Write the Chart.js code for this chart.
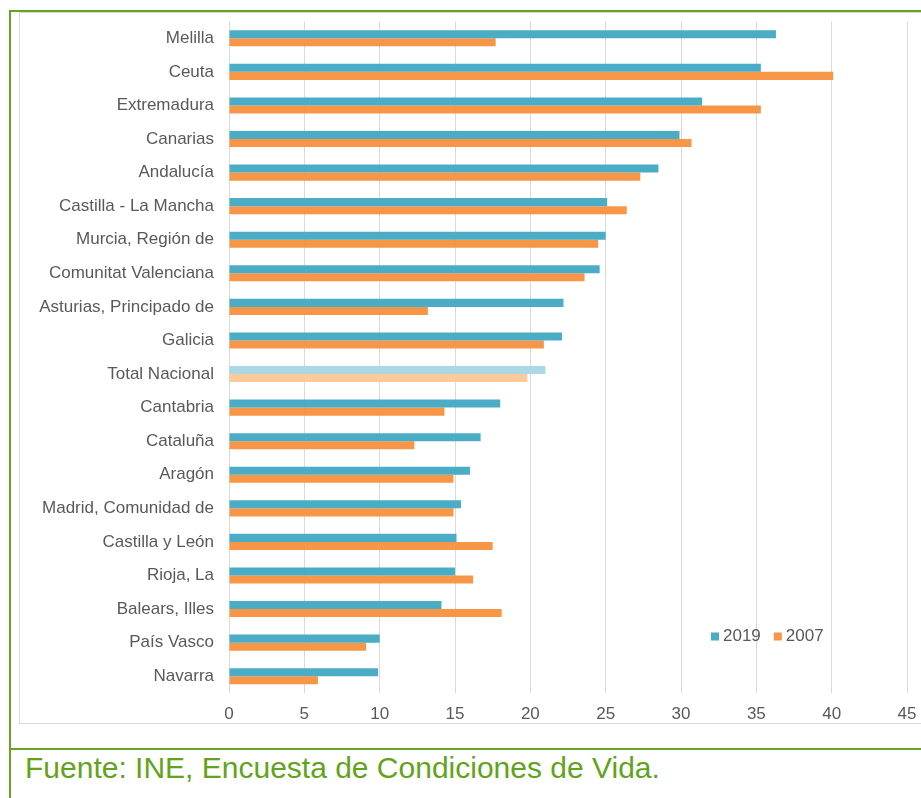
<!DOCTYPE html>
<html>
<head>
<meta charset="utf-8">
<script src="https://cdn.jsdelivr.net/npm/chart.js@4/dist/chart.umd.min.js"></script>
<style>
  html, body { margin: 0; padding: 0; background: #fff; }
  body { width: 921px; height: 798px; position: relative; overflow: hidden; font-family: "Liberation Sans", Arial, sans-serif; }
  .frame-left { position: absolute; left: 9px; top: 10px; width: 2px; height: 788px; background: #6aa121; }
  .frame-top { position: absolute; left: 9px; top: 10px; width: 912px; height: 2px; background: #6aa121; }
  .frame-mid { position: absolute; left: 9px; top: 748px; width: 912px; height: 2px; background: #6aa121; }
  .box { position: absolute; left: 19px; top: 12px; width: 910px; height: 712px; border: 1px solid #d9d9d9; box-sizing: border-box; }
  #wrap { position: absolute; left: 20px; top: 13px; width: 901px; height: 711px; }
  .fuente { position: absolute; left: 25px; top: 753px; font-size: 30px; line-height: 30px; color: #62a31c; white-space: nowrap; }
</style>
</head>
<body>
<div class="frame-left"></div>
<div class="frame-top"></div>
<div class="box"></div>
<div id="wrap"><canvas id="myChart"></canvas></div>
<div class="frame-mid"></div>
<div class="fuente">Fuente: INE, Encuesta de Condiciones de Vida.</div>
<script>
// datos
const regiones = ['Melilla', 'Ceuta', 'Extremadura', 'Canarias', 'Andalucía', 'Castilla - La Mancha',
  'Murcia, Región de', 'Comunitat Valenciana', 'Asturias, Principado de', 'Galicia', 'Total Nacional',
  'Cantabria', 'Cataluña', 'Aragón', 'Madrid, Comunidad de', 'Castilla y León', 'Rioja, La',
  'Balears, Illes', 'País Vasco', 'Navarra'];
const valores2019 = [36.3, 35.3, 31.4, 29.9, 28.5, 25.1, 25.0, 24.6, 22.2, 22.1, 21.0,
  18.0, 16.7, 16.0, 15.4, 15.1, 15.0, 14.1, 10.0, 9.9];
const valores2007 = [17.7, 40.1, 35.3, 30.7, 27.3, 26.4, 24.5, 23.6, 13.2, 20.9, 19.8,
  14.3, 12.3, 14.9, 14.9, 17.5, 16.2, 18.1, 9.1, 5.9];
const ticksX = [0, 5, 10, 15, 20, 25, 30, 35, 40, 45];

const azul = '#4bacc6', naranja = '#f79646';
const azulClaro = '#acd8e5', naranjaClaro = '#fdca9b';
const colores = (base, claro) => regiones.map(r => r === 'Total Nacional' ? claro : base);
const fuente = '"Liberation Sans", Arial, sans-serif';

// leyenda dentro del area del grafico
const leyenda = {
  id: 'leyenda',
  afterDraw(chart) {
    const c = chart.ctx;
    const x0 = chart.chartArea.left + 482, y0 = chart.chartArea.top + 615;
    c.save();
    c.font = '17px ' + fuente;
    c.textBaseline = 'middle';
    let x = x0;
    chart.data.datasets.forEach(ds => {
      c.fillStyle = ds.legendColor;
      c.fillRect(x, y0 - 4, 8, 8);
      c.fillStyle = '#595959';
      c.fillText(ds.label, x + 12, y0);
      x += 12 + c.measureText(ds.label).width + 13;
    });
    c.restore();
  }
};

new Chart(document.getElementById('myChart'), {
  type: 'bar',
  data: {
    labels: regiones,
    datasets: [
      { label: '2019', data: valores2019, backgroundColor: colores(azul, azulClaro), legendColor: azul },
      { label: '2007', data: valores2007, backgroundColor: colores(naranja, naranjaClaro), legendColor: naranja }
    ]
  },
  options: {
    indexAxis: 'y',
    responsive: true,
    maintainAspectRatio: false,
    animation: false,
    categoryPercentage: 0.48,
    barPercentage: 1,
    layout: { padding: { top: 8, right: 14, bottom: 0, left: 0 } },
    plugins: { legend: { display: false }, tooltip: { enabled: false } },
    scales: {
      x: {
        min: 0, max: 45,
        afterBuildTicks: s => { s.ticks = ticksX.map(v => ({ value: v })); },
        afterFit: s => { s.height = 31; },
        grid: { color: '#d9d9d9', drawTicks: true, tickLength: 11, tickColor: 'transparent' },
        border: { display: false },
        ticks: { color: '#595959', padding: 0, font: { size: 17, family: fuente } }
      },
      y: {
        afterFit: s => { s.width = 209; },
        grid: { display: false, drawTicks: true, tickLength: 15 },
        border: { display: false },
        ticks: { color: '#595959', padding: 0, font: { size: 17, family: fuente, lineHeight: 1 } }
      }
    }
  },
  plugins: [leyenda]
});
</script>
</body>
</html>
